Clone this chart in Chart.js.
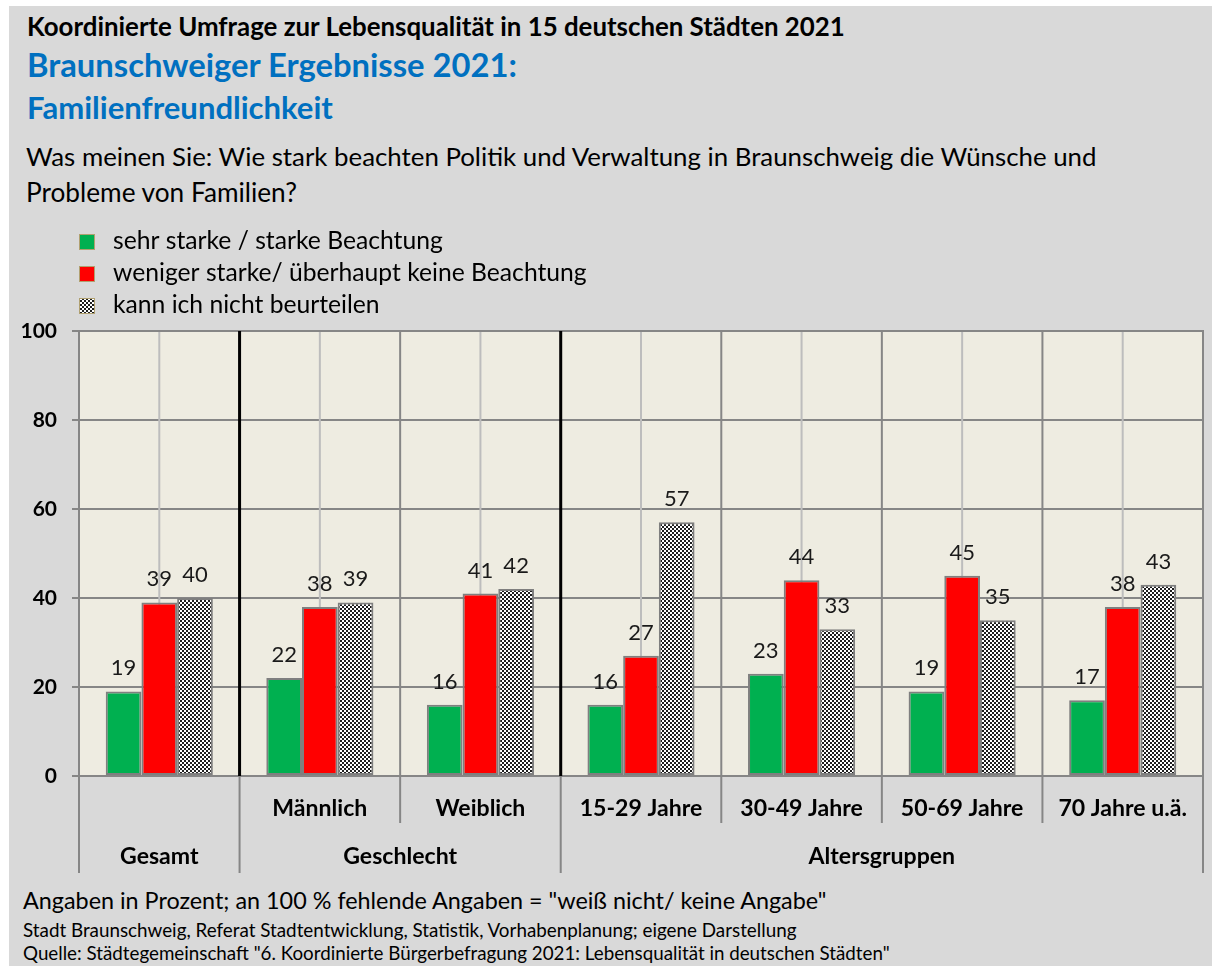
<!DOCTYPE html>
<html>
<head>
<meta charset="utf-8">
<script src="https://cdn.jsdelivr.net/npm/chart.js"></script>
<style>
html, body { margin: 0; padding: 0; background: #fff; }
#frame { position: absolute; left: 9px; top: 6px; width: 1203px; height: 960px; background: #d9d9d9; }
#chart { position: absolute; left: 0; top: 0; }
.t { position: absolute; white-space: nowrap; font-family: Lato, sans-serif; line-height: 1; color: #000; }
.b { font-weight: bold; }
.blue { color: #0070c0; }
</style>
</head>
<body>
<div id="frame"></div>
<div class="t b" style="left:27px" data-f="23" data-w="818" data-b="37">Koordinierte Umfrage zur Lebensqualität in 15 deutschen Städten 2021</div>
<div class="t b blue" style="left:27px" data-f="28" data-w="490" data-b="78">Braunschweiger Ergebnisse 2021:</div>
<div class="t b blue" style="left:27px" data-f="28" data-w="306" data-b="120">Familienfreundlichkeit</div>
<div class="t" style="left:26px" data-f="23" data-w="1071" data-b="167">Was meinen Sie: Wie stark beachten Politik und Verwaltung in Braunschweig die Wünsche und</div>
<div class="t" style="left:26px" data-f="23" data-w="271" data-b="202">Probleme von Familien?</div>
<div class="t" style="left:23px" data-f="19" data-w="804" data-b="910">Angaben in Prozent; an 100 % fehlende Angaben = "weiß nicht/ keine Angabe"</div>
<div class="t" style="left:23px" data-f="16" data-w="774" data-b="938">Stadt Braunschweig, Referat Stadtentwicklung, Statistik, Vorhabenplanung; eigene Darstellung</div>
<div class="t" style="left:23px" data-f="16" data-w="867" data-b="961">Quelle: Städtegemeinschaft "6. Koordinierte Bürgerbefragung 2021: Lebensqualität in deutschen Städten"</div>
<canvas id="chart" width="1212" height="966"></canvas>
<script>
// categories and groups
const subLabels = ['', 'Männlich', 'Weiblich', '15-29 Jahre', '30-49 Jahre', '50-69 Jahre', '70 Jahre u.ä.'];
const groupLabels = ['Gesamt', 'Geschlecht', 'Altersgruppen'];
const groupSizes = [1, 2, 4];

// series (percent)
const seriesNames = ['sehr starke / starke Beachtung', 'weniger starke/ überhaupt keine Beachtung', 'kann ich nicht beurteilen'];
const starke = [19, 22, 16, 16, 23, 19, 17];
const weniger = [39, 38, 41, 27, 44, 45, 38];
const kannNicht = [40, 39, 42, 57, 33, 35, 43];

// y axis
const yTicks = [0, 20, 40, 60, 80, 100];

// fit html texts to the widths of the original
document.querySelectorAll('.t').forEach(el => {
    let f = parseFloat(el.dataset.f);
    el.style.fontSize = f + 'px';
    const w = el.getBoundingClientRect().width;
    f = f * parseFloat(el.dataset.w) / w;
    el.style.fontSize = f + 'px';
    el.style.top = (parseFloat(el.dataset.b) - 0.887 * f) + 'px';
});

const canvas = document.getElementById('chart');
const ctx = canvas.getContext('2d');

const makeChecker = () => {
    const c = document.createElement('canvas');
    c.width = 4; c.height = 4;
    const g = c.getContext('2d');
    g.fillStyle = '#ffffff';
    g.fillRect(0, 0, 4, 4);
    g.fillStyle = '#1e1e1e';
    g.fillRect(0, 0, 2, 2);
    g.fillRect(2, 2, 2, 2);
    return ctx.createPattern(c, 'repeat');
};
const checker = makeChecker();

const fitSize = (text, weight, base, target) => {
    ctx.save();
    ctx.font = weight + ' ' + base + 'px Lato';
    const w = ctx.measureText(text).width;
    ctx.restore();
    return base * target / w;
};

const line = (c, x1, y1, x2, y2) => {
    c.beginPath();
    c.moveTo(x1, y1);
    c.lineTo(x2, y2);
    c.stroke();
};

// boundary pixel between category i-1 and i
const boundary = (x, i) => {
    if (i <= 0) return x.left;
    if (i >= subLabels.length) return x.right;
    return (x.getPixelForValue(i - 1) + x.getPixelForValue(i)) / 2;
};

const groupStarts = () => {
    let acc = 0;
    return groupSizes.map(s => { const st = acc; acc += s; return st; });
};

const plotFrame = {
    id: 'plotFrame',
    beforeDraw(chart) {
        const { ctx, chartArea: a } = chart;
        ctx.save();
        ctx.fillStyle = '#eeece1';
        ctx.fillRect(a.left, a.top, a.right - a.left, a.bottom - a.top);
        ctx.restore();
    },
    beforeDatasetsDraw(chart) {
        const { ctx, chartArea: a, scales: { x } } = chart;
        const starts = groupStarts();
        ctx.save();
        ctx.lineWidth = 2;
        ctx.strokeStyle = '#bdbdbd';
        subLabels.forEach((_, i) => {
            const px = x.getPixelForValue(i);
            line(ctx, px, a.top + 1, px, a.bottom - 1);
        });
        for (let i = 1; i < subLabels.length; i++) {
            const px = boundary(x, i);
            if (starts.includes(i)) {
                ctx.strokeStyle = '#000';
                ctx.lineWidth = 3;
            } else {
                ctx.strokeStyle = '#868686';
                ctx.lineWidth = 2;
            }
            line(ctx, px, a.top, px, a.bottom);
        }
        ctx.strokeStyle = '#868686';
        ctx.lineWidth = 2;
        line(ctx, a.right, a.top - 1, a.right, a.bottom);
        ctx.restore();
    },
    afterDatasetsDraw(chart) {
        const { ctx } = chart;
        ctx.save();
        ctx.font = '22px Lato';
        ctx.fillStyle = '#1a1a1a';
        ctx.textAlign = 'center';
        ctx.textBaseline = 'alphabetic';
        chart.data.datasets.forEach((ds, di) => {
            chart.getDatasetMeta(di).data.forEach((bar, i) => {
                ctx.fillText(String(ds.data[i]), bar.x, bar.y - 16);
            });
        });
        ctx.restore();
    },
    afterDraw(chart) {
        const { ctx, chartArea: a, scales: { x } } = chart;
        const starts = groupStarts();
        ctx.save();
        // separators below the axis
        ctx.strokeStyle = '#868686';
        ctx.lineWidth = 2;
        for (let i = 0; i <= subLabels.length; i++) {
            const px = boundary(x, i);
            const full = i === 0 || i === subLabels.length || starts.includes(i);
            line(ctx, px, a.bottom, px, full ? a.bottom + 97 : a.bottom + 47);
        }
        // category labels
        const labSize = fitSize('Männlich', 'bold', 20, 95);
        ctx.font = 'bold ' + labSize + 'px Lato';
        ctx.fillStyle = '#000';
        ctx.textAlign = 'center';
        subLabels.forEach((lab, i) => {
            if (lab) ctx.fillText(lab, x.getPixelForValue(i), a.bottom + 40);
        });
        groupLabels.forEach((lab, g) => {
            const l = boundary(x, starts[g]);
            const r = boundary(x, starts[g] + groupSizes[g]);
            ctx.fillText(lab, (l + r) / 2, a.bottom + 88);
        });
        // legend
        const legSize = fitSize(seriesNames[1], 'normal', 21, 474);
        ctx.font = legSize + 'px Lato';
        ctx.textAlign = 'left';
        chart.data.datasets.forEach((ds, i) => {
            const top = 234 + i * 32;
            ctx.fillStyle = ds.backgroundColor;
            ctx.fillRect(79, top, 16, 16);
            ctx.strokeStyle = '#b0a070';
            ctx.lineWidth = 1;
            ctx.strokeRect(79.5, top + 0.5, 15, 15);
            ctx.fillStyle = '#000';
            ctx.fillText(ds.label, 113, top + 15);
        });
        ctx.restore();
    }
};

const barStyle = { borderColor: '#7f7f7f', borderWidth: 2, borderSkipped: false, categoryPercentage: 0.667, barPercentage: 1 };

new Chart(ctx, {
    type: 'bar',
    data: {
        labels: subLabels,
        datasets: [
            Object.assign({ label: seriesNames[0], data: starke, backgroundColor: '#00b050' }, barStyle),
            Object.assign({ label: seriesNames[1], data: weniger, backgroundColor: '#ff0000' }, barStyle),
            Object.assign({ label: seriesNames[2], data: kannNicht, backgroundColor: checker }, barStyle)
        ]
    },
    options: {
        responsive: false,
        animation: false,
        layout: { padding: { top: 331, right: 9, left: 0, bottom: 0 } },
        plugins: { legend: { display: false }, tooltip: { enabled: false } },
        scales: {
            x: {
                grid: { display: false },
                ticks: { display: false },
                border: { display: false },
                afterFit: s => { s.height = 190; }
            },
            y: {
                min: 0,
                max: 100,
                afterBuildTicks: s => { s.ticks = yTicks.map(v => ({ value: v })); },
                ticks: { color: '#000', padding: 15, font: { family: 'Lato', weight: 'bold', size: 21 } },
                grid: { color: '#868686', lineWidth: 2, tickLength: 7 },
                border: { color: '#868686', width: 2 },
                afterFit: s => { s.width = 79; }
            }
        }
    },
    plugins: [plotFrame]
});
</script>
</body>
</html>
